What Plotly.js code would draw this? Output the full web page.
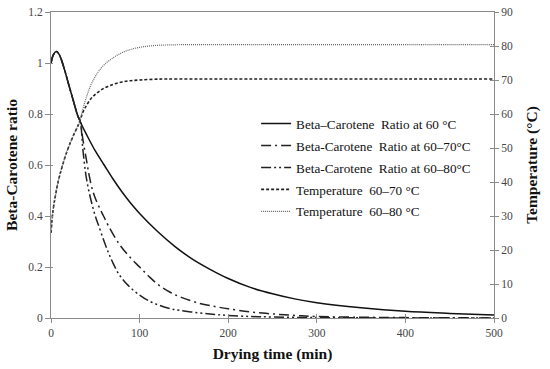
<!DOCTYPE html>
<html>
<head>
<meta charset="utf-8">
<script src="https://cdn.plot.ly/plotly-3.0.1.min.js"></script>
<style>html,body{margin:0;padding:0;background:#fff;}#chart{width:550px;height:369px;}</style>
</head>
<body>
<div id="chart"></div>
<script>
// Beta-carotene ratio at 60 °C
const tBeta60 = [0,3,6,9,12,16,20,25,30,35,40,50,60,70,80,90,100,120,140,160,180,200,225,250,275,300,350,400,450,500];
const beta60 = [1.0,1.035,1.045,1.035,1.01,0.965,0.915,0.855,0.795,0.755,0.72,0.655,0.60,0.545,0.495,0.45,0.41,0.34,0.28,0.23,0.19,0.155,0.12,0.095,0.075,0.06,0.04,0.026,0.018,0.012];
// Beta-carotene ratio at 60–70 °C
const tBeta6070 = [0,3,6,9,12,16,20,25,30,33,36,40,43,47,50,55,60,65,77,90,100,110,122,135,145,167,185,200,225,250,275,300,350,400,450,500];
const beta6070 = [1.0,1.035,1.045,1.035,1.01,0.965,0.915,0.855,0.795,0.77,0.70,0.62,0.56,0.50,0.47,0.43,0.395,0.36,0.29,0.235,0.20,0.165,0.128,0.10,0.084,0.058,0.045,0.036,0.024,0.016,0.010,0.006,0.003,0.0015,0.0007,0.0003];
// Beta-carotene ratio at 60–80 °C
const tBeta6080 = [0,3,6,9,12,16,20,25,30,33,36,39,42,46,50,54,60,65,70,77,85,90,100,110,122,135,145,167,185,200,225,250,300,350,400,500];
const beta6080 = [1.0,1.035,1.045,1.035,1.01,0.965,0.915,0.855,0.795,0.77,0.66,0.57,0.51,0.45,0.40,0.36,0.30,0.255,0.215,0.17,0.135,0.118,0.09,0.068,0.05,0.036,0.03,0.02,0.014,0.01,0.006,0.004,0.0015,0.0006,0.0002,0];
// Temperature 60–70 °C
const tTemp6070 = [0,2,5,8,12,18,25,32,36,40,45,50,55,60,70,80,90,100,115,130,160,200,300,400,500];
const temp6070 = [25,31,36,40,44,49,53.5,57.5,60.5,62.5,64.5,65.8,66.8,67.6,68.7,69.4,69.8,70.0,70.2,70.3,70.3,70.3,70.3,70.3,70.3];
// Temperature 60–80 °C
const tTemp6080 = [0,2,5,8,12,18,25,32,36,40,45,50,55,60,70,80,90,100,115,130,160,200,300,400,500];
const temp6080 = [25,31,36,40,44,49,53.5,57.5,61.5,65,68.5,71,73,74.5,76.5,78,79,79.6,80.1,80.3,80.4,80.4,80.4,80.4,80.4];

const names = [
  "Beta\u2013Carotene  Ratio at 60 \u00b0C",
  "Beta-Carotene  Ratio at 60\u201370\u00b0C",
  "Beta-Carotene  Ratio at 60\u201380\u00b0C",
  "Temperature  60\u201370 \u00b0C",
  "Temperature  60\u201380 \u00b0C"
];

const serif = "Liberation Serif, Times New Roman, serif";

const traces = [
  {x: tBeta60, y: beta60, name: names[0], legendgroup: "g1", mode: "lines", line: {color: "#111", width: 1.5, shape: "spline"}},
  {x: tBeta6070, y: beta6070, name: names[1], legendgroup: "g2", mode: "lines", line: {color: "#222", width: 1.5, dash: "10px,4px,2px,4px", shape: "spline"}},
  {x: tBeta6080, y: beta6080, name: names[2], legendgroup: "g3", mode: "lines", line: {color: "#222", width: 1.5, dash: "10px,3px,2px,3px,2px,3px", shape: "spline"}},
  {x: tTemp6070, y: temp6070, name: names[3], legendgroup: "g4", mode: "lines", yaxis: "y2", line: {color: "#222", width: 1.6, dash: "3px,2px", shape: "spline"}},
  {x: tTemp6080, y: temp6080, name: names[4], legendgroup: "g5", mode: "lines", yaxis: "y2", line: {color: "#666", width: 1.2, dash: "1px,1px", shape: "spline"}},
  // empty helpers so the crossing tick overlays get drawn
  {x: [], y: [], xaxis: "x2", yaxis: "y3", showlegend: false, hoverinfo: "skip"},
  {x: [], y: [], xaxis: "x2", yaxis: "y4", showlegend: false, hoverinfo: "skip"}
];

const tickFont = {family: serif, size: 11.5, color: "#444"};
const titleFont = {family: serif, size: 15.5, color: "#111", weight: "bold"};

const layout = {
  width: 550, height: 369,
  margin: {l: 51, r: 56, t: 12, b: 51},
  paper_bgcolor: "#fff", plot_bgcolor: "#fff",
  showlegend: true,
  legend: {x: 0.463, y: 0.685, xanchor: "left", yanchor: "top", bgcolor: "rgba(0,0,0,0)",
           font: {family: serif, size: 13.2, color: "#111"}, traceorder: "grouped", tracegroupgap: 1.8, itemwidth: 30},
  xaxis: {range: [0, 500], tickvals: [0,100,200,300,400,500], showgrid: false, zeroline: false,
          showline: true, linecolor: "#8a8a8a", linewidth: 1, mirror: true,
          ticks: "outside", ticklen: 4, tickcolor: "#8a8a8a", tickfont: tickFont,
          title: {text: "Drying time (min)", font: titleFont, standoff: 10}},
  xaxis2: {range: [0, 500], overlaying: "x", tickvals: [0,100,200,300,400,500], showgrid: false,
           zeroline: false, showline: false, ticks: "inside", ticklen: 4, tickcolor: "#8a8a8a",
           showticklabels: false},
  yaxis: {range: [0, 1.2], tickvals: [0,0.2,0.4,0.6,0.8,1,1.2], showgrid: false, zeroline: false,
          showline: true, linecolor: "#8a8a8a", linewidth: 1,
          ticks: "outside", ticklen: 5, tickcolor: "#8a8a8a", tickfont: tickFont,
          title: {text: "Beta-Carotene ratio", font: titleFont, standoff: 6}},
  yaxis2: {range: [0, 90], overlaying: "y", side: "right", tickvals: [0,10,20,30,40,50,60,70,80,90],
           showgrid: false, zeroline: false, showline: true, linecolor: "#8a8a8a", linewidth: 1,
           ticks: "outside", ticklen: 4, tickcolor: "#8a8a8a", tickfont: tickFont,
           title: {text: "Temperature (\u00b0C)", font: titleFont, standoff: 14}},
  yaxis3: {range: [0, 1.2], overlaying: "y", tickvals: [0,0.2,0.4,0.6,0.8,1,1.2], showgrid: false,
           zeroline: false, showline: false, ticks: "inside", ticklen: 2, tickcolor: "#8a8a8a",
           showticklabels: false},
  yaxis4: {range: [0, 90], overlaying: "y", side: "right", tickvals: [0,10,20,30,40,50,60,70,80,90],
           showgrid: false, zeroline: false, showline: false, ticks: "inside", ticklen: 4, tickcolor: "#8a8a8a",
           showticklabels: false}
};

Plotly.newPlot("chart", traces, layout, {staticPlot: true, displayModeBar: false});
</script>
</body>
</html>
